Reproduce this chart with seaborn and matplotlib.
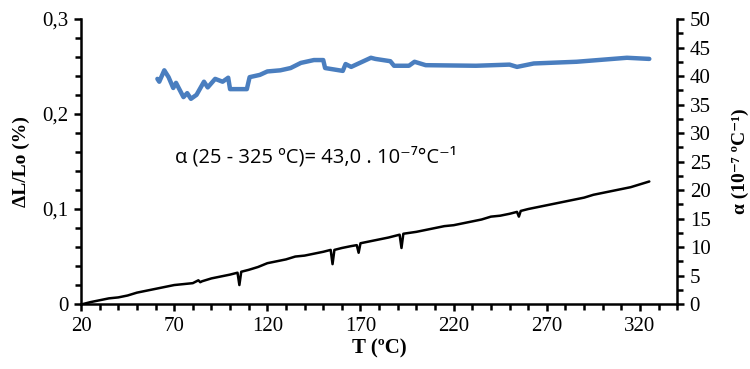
import matplotlib.pyplot as plt
import matplotlib.ticker as mticker
import pandas as pd
import seaborn as sns

# dilatometric curve, dL/Lo (%) vs T (C)
black_T = [21, 25, 30, 35, 40, 45, 50, 55, 60, 65,
           70, 75, 80, 83, 84, 85, 90, 95, 100, 104,
           105, 106, 110, 115, 120, 125, 130, 135, 140, 145,
           150, 154, 155, 156, 160, 165, 168, 169, 170, 175,
           180, 185, 191, 192, 193, 200, 205, 210, 215, 220,
           225, 230, 235, 240, 245, 250, 254, 255, 256, 260,
           265, 270, 275, 280, 285, 290, 295, 300, 305, 310,
           315, 320, 325]
black_dl = [0.000, 0.002, 0.004, 0.006, 0.007, 0.009, 0.012, 0.014, 0.016, 0.018,
            0.020, 0.021, 0.022, 0.025, 0.023, 0.024, 0.027, 0.029, 0.031, 0.033,
            0.020, 0.034, 0.036, 0.039, 0.043, 0.045, 0.047, 0.050, 0.051, 0.053,
            0.055, 0.057, 0.042, 0.057, 0.059, 0.061, 0.062, 0.054, 0.064, 0.066,
            0.068, 0.070, 0.073, 0.059, 0.074, 0.076, 0.078, 0.080, 0.082, 0.083,
            0.085, 0.087, 0.089, 0.092, 0.093, 0.095, 0.097, 0.092, 0.098, 0.100,
            0.102, 0.104, 0.106, 0.108, 0.110, 0.112, 0.115, 0.117, 0.119, 0.121,
            0.123, 0.126, 0.129]

# expansion coefficient alpha (10^-7 /C)
blue_T = [61, 62, 64.7, 67, 69.5, 71, 75, 77, 79, 82,
          86, 88, 92, 96, 99, 100, 109, 110.5, 116, 120,
          127, 132.5, 138, 145, 150, 151, 160.5, 162, 165, 175.6,
          178, 186, 188, 196, 199, 205, 232, 250, 254, 263,
          286, 313, 325]
blue_a = [39.5, 39, 41, 39.8, 37.9, 38.8, 36.3, 37, 36, 36.7,
          39, 38, 39.5, 39, 39.7, 37.7, 37.7, 39.8, 40.2, 40.8,
          41, 41.4, 42.3, 42.8, 42.8, 41.4, 40.9, 42.1, 41.6, 43.2,
          43, 42.6, 41.8, 41.8, 42.5, 41.9, 41.8, 42, 41.6, 42.2,
          42.5, 43.2, 43]

x_ticks = [20, 70, 120, 170, 220, 270, 320]
left_ticks = [0, 0.1, 0.2, 0.3]
left_ticklabels = ["0", "0,1", "0,2", "0,3"]
right_ticks = [0, 5, 10, 15, 20, 25, 30, 35, 40, 45, 50]

sns.set_style("ticks")
plt.rcParams["font.family"] = ["Liberation Serif", "DejaVu Serif"]

dl = pd.DataFrame({"T": black_T, "dl": black_dl})
al = pd.DataFrame({"T": blue_T, "a": blue_a})

fig = plt.figure(figsize=(7.5, 3.69), dpi=100)
ax = fig.add_axes([0.108, 0.176, 0.795, 0.7725])
ax2 = ax.twinx()

sns.lineplot(data=dl, x="T", y="dl", ax=ax, color="black", lw=1.8,
             sort=False, estimator=None)
sns.lineplot(data=al, x="T", y="a", ax=ax2, color="#4a7ebf", lw=3.2,
             sort=False, estimator=None)

ax.set_xlim(20, 340)
ax.set_ylim(0, 0.3)
ax2.set_ylim(0, 50)
ax.set_xticks(x_ticks)
ax.set_yticks(left_ticks)
ax.set_yticklabels(left_ticklabels)
ax2.set_yticks(right_ticks)
ax.xaxis.set_minor_locator(mticker.MultipleLocator(10))
ax.yaxis.set_minor_locator(mticker.MultipleLocator(0.02))
ax2.yaxis.set_minor_locator(mticker.MultipleLocator(2.5))

for a in (ax, ax2):
    a.spines["top"].set_visible(False)
    for s in ("left", "right", "bottom"):
        a.spines[s].set_linewidth(1.8)
        a.spines[s].set_color("black")
    a.tick_params(which="major", length=5, width=1.8, labelsize=15,
                  colors="black", pad=4)
    a.tick_params(which="minor", length=4, width=1.8, colors="black")
ax.spines["right"].set_visible(False)
ax2.spines["left"].set_visible(False)
ax2.spines["bottom"].set_visible(False)

ax.set_xlabel("T (ºC)", fontsize=15, fontweight="bold", labelpad=2,
              color="black")
ax.set_ylabel("ΔL/Lo (%)", fontsize=14, fontweight="bold", color="black")
ax.yaxis.set_label_coords(-0.085, 0.5)
ax2.set_ylabel("α (10⁻⁷ ºC⁻¹)", fontsize=14, fontweight="bold",
               rotation=90, color="black")
ax2.yaxis.set_label_coords(1.092, 0.5)

ax.text(0.158, 0.515, "α (25 - 325 ºC)= 43,0 . 10⁻⁷°C⁻¹", transform=ax.transAxes,
        fontsize=14.5, family=["Open Sans", "DejaVu Sans"], va="center",
        color="black")

fig.savefig("out.png", dpi=100)
